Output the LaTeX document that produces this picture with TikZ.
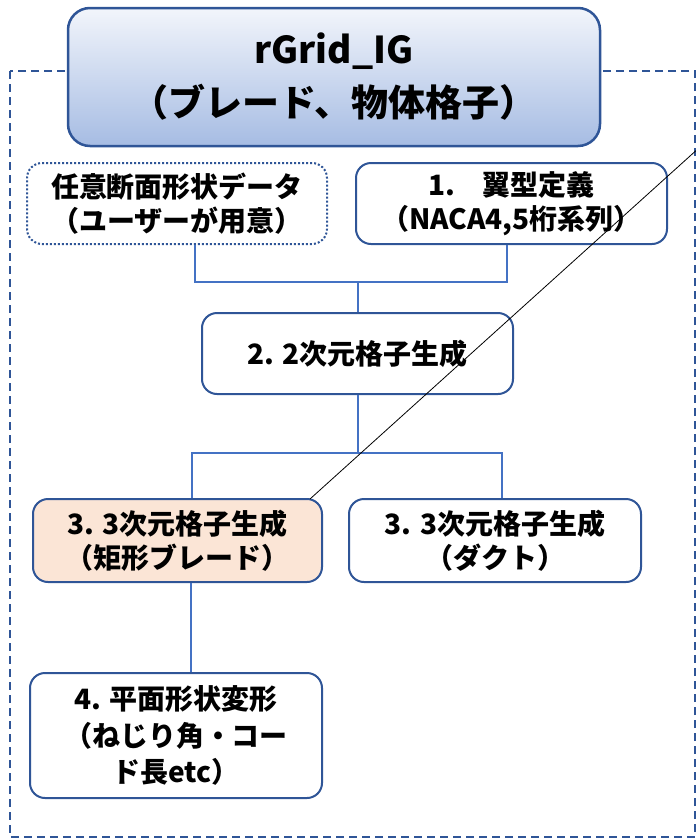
\documentclass[tikz,border=0pt]{standalone}
\usepackage{fontspec}
\setmainfont{Noto Sans CJK JP}
\begin{document}
\begin{tikzpicture}[x=1pt,y=-1pt,
  box/.style={draw=bordblue,line width=2pt,rounded corners=15pt,fill=white,align=center,inner sep=0pt,font=\fontsize{28}{34}\selectfont\bfseries},
  conn/.style={draw=linkblue,line width=1.8pt},
]
\definecolor{bordblue}{HTML}{2F5597}
\definecolor{linkblue}{HTML}{4472C4}
\definecolor{peach}{HTML}{FBE5D6}
\definecolor{topblue}{HTML}{F2F5FB}
\definecolor{botblue}{HTML}{A6BCE3}
\useasboundingbox (0,0) rectangle (696,839);
% frame
\draw[bordblue,line width=1.8pt,dash pattern=on 8pt off 5pt] (10,71) rectangle (695,837);
% title
\node[draw=bordblue,line width=2.5pt,rounded corners=22pt,top color=topblue,bottom color=botblue,
  minimum width=532pt,minimum height=138pt,inner sep=0pt,align=center,
  font=\fontsize{37}{53}\selectfont\bfseries] (title) at (334,77) {rGrid\_IG\\（ブレード、物体格子）};
% level 1
\node[box,draw=bordblue,dash pattern=on 2pt off 2pt,minimum width=300pt,minimum height=81pt] (src) at (177,203.5) {任意断面形状データ\\（ユーザーが用意）};
\node[box,minimum width=311pt,minimum height=81pt] (b1) at (511.5,203.5) {1.　翼型定義\\（NACA4,5桁系列）};
% level 2
\node[box,minimum width=311pt,minimum height=81pt] (b2) at (357.5,353.5) {2. 2次元格子生成};
% level 3
\node[box,fill=peach,minimum width=289pt,minimum height=83pt] (b3a) at (177.5,540.5) {3. 3次元格子生成\\（矩形ブレード）};
\node[box,minimum width=292pt,minimum height=83pt] (b3b) at (495,540.5) {3. 3次元格子生成\\（ダクト）};
% level 4
\node[box,minimum width=292pt,minimum height=125pt,font=\fontsize{28}{36.5}\selectfont\bfseries] (b4) at (176,735.5) {4. 平面形状変形\\（ねじり角・コー\\ド長etc）};
% connectors
\coordinate (j1) at (358,282);
\coordinate (j2) at (358,453);
\draw[conn] ([xshift=18pt]src.south) |- (j1) -| ([xshift=-4.5pt]b1.south);
\draw[conn] (j1) -- (b2.north -| j1);
\draw[conn] (b2.south -| j2) -- (j2);
\draw[conn] ([xshift=14.5pt]b3a.north) |- (j2) -| ([xshift=7pt]b3b.north);
\draw[conn] ([xshift=13.5pt]b3a.south) -- ([xshift=15pt]b4.north);
% diagonal
\coordinate (far) at (700,147);
\draw[black,line width=0.8pt] (far) -- ([xshift=-13pt,yshift=-1pt]b3a.north east);
\end{tikzpicture}
\end{document}
